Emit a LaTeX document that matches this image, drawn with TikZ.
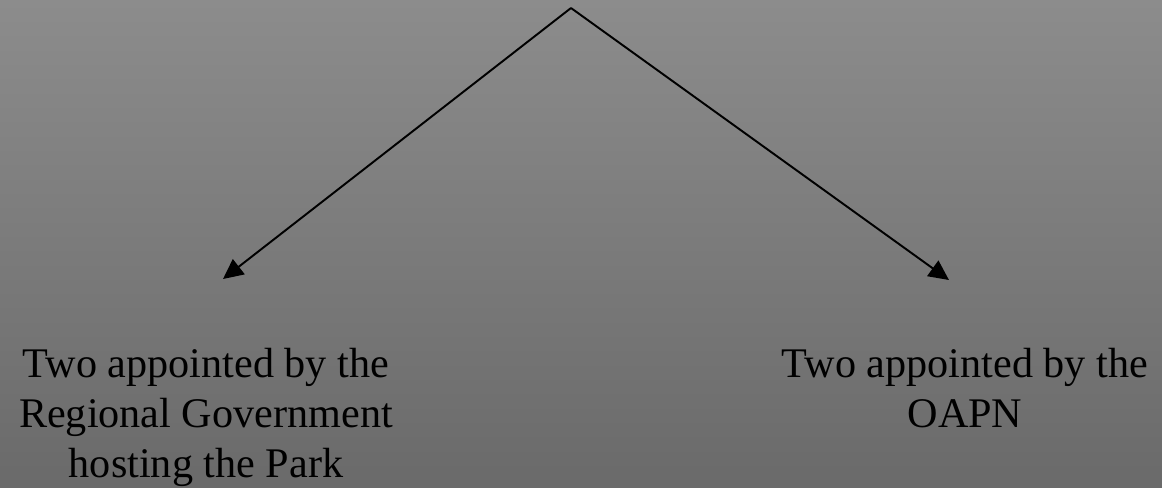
\documentclass[tikz,border=0pt]{standalone}
\usepackage{fontspec}
\setmainfont{Liberation Serif}
\definecolor{slatetop}{HTML}{8C8C8C}
\definecolor{slatebot}{HTML}{6A6A6A}
\definecolor{ink}{HTML}{000000}
\usetikzlibrary{arrows.meta, positioning}
\tikzset{
  lbl/.style={align=center, inner sep=0pt, anchor=north, text=ink,
              font=\fontsize{12}{14.2}\selectfont},
  flow/.style={-{Triangle[length=5.7pt, width=5.4pt]}, line width=0.55pt, color=ink},
}

\begin{document}
\begin{tikzpicture}[x=0.01cm,y=0.01cm]
\shade[top color=slatetop,bottom color=slatebot] (0,0) rectangle (1162,487);
\useasboundingbox (0,0) rectangle (1162,487);
\coordinate (top) at (571,479);
\coordinate (regtip) at (223,208);
\coordinate (oapntip) at (949,207);
\node[lbl] (regional) at (206,139) {Two appointed by the\\Regional Government\\hosting the Park};
\node[lbl] (oapn) at (965,139) {Two appointed by the\\OAPN};
\draw[flow] (top)--(regtip);\draw[flow] (top)--(oapntip);
\end{tikzpicture}
\end{document}
